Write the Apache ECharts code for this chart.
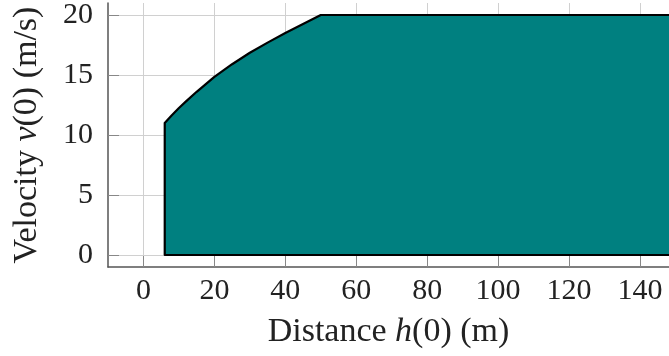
<!DOCTYPE html>
<html>
<head>
<meta charset="utf-8">
<script src="https://cdn.jsdelivr.net/npm/echarts@6/dist/echarts.min.js"></script>
<style>html,body{margin:0;padding:0;background:#fff}#c{width:669px;height:356px}</style>
</head>
<body>
<div id="c"></div>
<script>
// Data
const xTicks = [0, 20, 40, 60, 80, 100, 120, 140];
const yTicks = [0, 5, 10, 15, 20];
// boundary of the feasible region: [distance h(0), velocity v(0)]
const regionX = [6, 6, 8, 10, 12, 15, 20, 25, 30, 35, 40, 45, 50, 152, 152];
const regionY = [0, 11, 11.65, 12.25, 12.8, 13.6, 14.85, 15.9, 16.85, 17.7, 18.5, 19.25, 20, 20, 0];
const xRange = [-10, 148.2];
const yRange = [-1, 21];

const FONT = '"Liberation Serif", "DejaVu Serif", serif';
const region = regionX.map((x, i) => [x, regionY[i]]);

const chart = echarts.init(document.getElementById('c'), null, {renderer: 'canvas'});
chart.setOption({
  animation: false,
  backgroundColor: '#fff',
  grid: {left: 108, right: 0, top: 3, bottom: 89, containLabel: false},
  xAxis: {
    type: 'value', min: xRange[0], max: xRange[1],
    name: '{n|Distance }{i|h}{n|(0) (m)}',
    nameLocation: 'middle', nameGap: 48,
    nameTextStyle: {rich: {
      n: {fontFamily: FONT, fontSize: 34, color: '#222'},
      i: {fontFamily: FONT, fontSize: 34, fontStyle: 'italic', color: '#222'}
    }},
    axisLine: {onZero: false, lineStyle: {color: '#555', width: 1.5}},
    axisTick: {inside: true, length: 11, customValues: xTicks, lineStyle: {color: '#888', width: 1}},
    axisLabel: {customValues: xTicks, fontFamily: FONT, fontSize: 30, color: '#222', margin: 9},
    splitLine: {show: true, lineStyle: {color: '#d0d0d0', width: 1}}
  },
  yAxis: {
    type: 'value', min: yRange[0], max: yRange[1],
    name: '{n|Velocity }{i|v}{n|(0) (m/s)}',
    nameLocation: 'middle', nameGap: 64, nameRotate: 90,
    nameTextStyle: {rich: {
      n: {fontFamily: FONT, fontSize: 34, color: '#222'},
      i: {fontFamily: FONT, fontSize: 34, fontStyle: 'italic', color: '#222'}
    }},
    axisLine: {show: true, onZero: false, lineStyle: {color: '#555', width: 1.5}},
    axisTick: {show: true, inside: true, length: 11, customValues: yTicks, lineStyle: {color: '#888', width: 1}},
    axisLabel: {customValues: yTicks, fontFamily: FONT, fontSize: 30, color: '#222', margin: 15},
    splitLine: {show: true, lineStyle: {color: '#d0d0d0', width: 1}}
  },
  series: [{
    type: 'custom',
    clip: true,
    data: [0],
    renderItem: function (params, api) {
      const pts = region.map(p => api.coord(p));
      return {
        type: 'polygon',
        shape: {points: pts},
        style: {fill: '#008080', stroke: '#000', lineWidth: 2.2, lineJoin: 'round'}
      };
    }
  }]
});
</script>
</body>
</html>
